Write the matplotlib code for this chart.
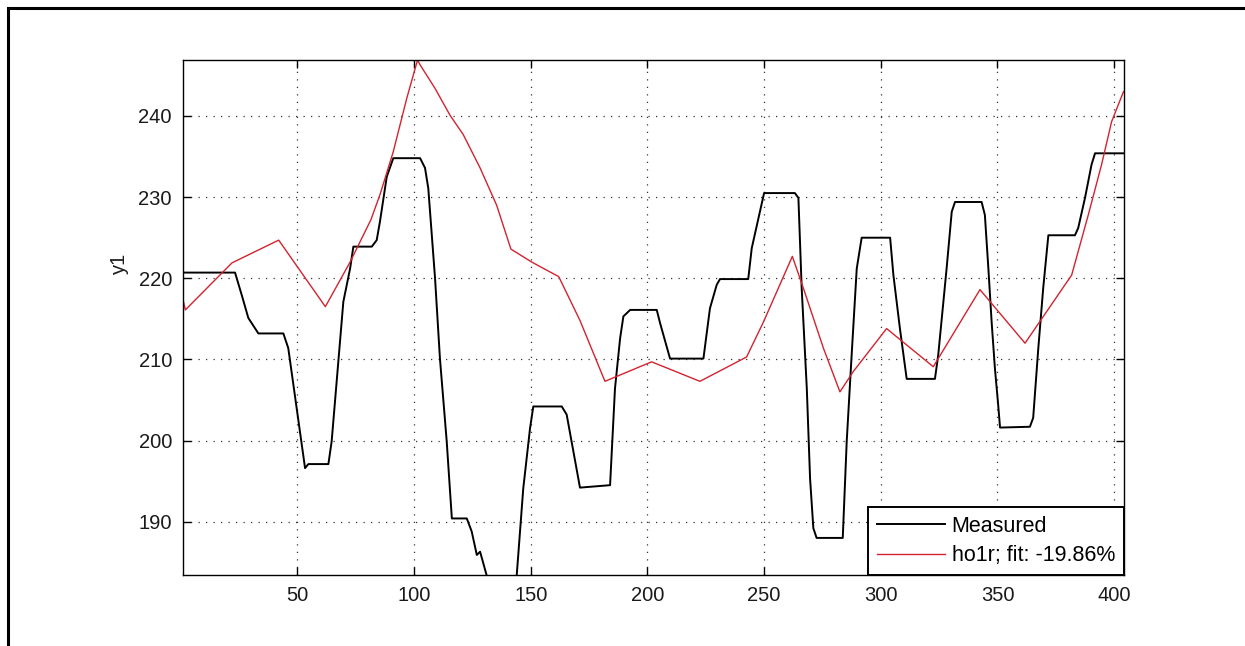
import numpy as np
import matplotlib.pyplot as plt
from matplotlib.patches import Rectangle

plt.rcParams['font.family'] = ['Liberation Sans', 'DejaVu Sans']

# mesure (sortie y1)
t_mes = [1, 23.3, 26.2, 29, 33.3, 44, 46.1, 53.3, 54.7, 63.3, 64.7, 69.7, 72.6, 74,
         81.9, 84, 85.4, 88.3, 91.1, 102.6, 104.7, 106.1, 109, 111.1, 114, 116.2,
         122.6, 124.7, 126.9, 128.3, 131.1, 134, 142.5, 144, 146.8, 149.7, 151.1,
         163.3, 165.4, 171.1, 184, 186.1, 188.3, 189.7, 192.6, 204, 205.4, 209.7,
         224, 226.8, 229.7, 231.1, 243.2, 244.7, 248.2, 250, 263.2, 264.7, 266.1,
         268.3, 269.7, 271.1, 272.5, 283.7, 285.4, 287.5, 289.7, 291.8, 304, 305.4,
         308.2, 311.1, 323.2, 324.6, 328.2, 330.4, 331.8, 343.2, 344.6, 346.1,
         347.5, 348.9, 350.3, 351.1, 363.9, 365.3, 367.5, 369.6, 371.8, 383.2,
         384.6, 387.5, 390.3, 391.8, 404]
y_mes = [220.7, 220.7, 217.9, 215.1, 213.2, 213.2, 211.4, 196.6, 197.1, 197.1, 199.9,
         217.1, 221.2, 223.9, 223.9, 224.7, 227.0, 232.5, 234.8, 234.8, 233.6, 231.1,
         220.0, 210.1, 199.9, 190.4, 190.4, 188.8, 185.9, 186.3, 183.4, 180.5, 180.5,
         183.4, 194.1, 201.5, 204.2, 204.2, 203.2, 194.2, 194.5, 206.4, 212.6, 215.3,
         216.1, 216.1, 214.5, 210.1, 210.1, 216.3, 219.2, 219.9, 219.9, 223.7, 228.2,
         230.5, 230.5, 229.9, 218.8, 206.4, 195.3, 189.2, 188.0, 188.0, 199.9, 210.5,
         221.2, 225.0, 225.0, 220.4, 213.8, 207.6, 207.6, 210.5, 221.2, 228.2, 229.4,
         229.4, 227.8, 221.2, 214.6, 208.9, 204.4, 201.6, 201.7, 202.8, 211.4, 218.8,
         225.3, 225.3, 226.2, 229.9, 234.0, 235.4, 235.4]

# sortie simulee du modele ho1r
t_sim = [1, 2, 22, 42, 62, 72.6, 81.5, 85.4, 91.1, 96.9, 101.5, 102.6, 109, 115.4,
         121.1, 128.3, 135.4, 141.5, 150.4, 162, 171.1, 181.8, 201.8, 222.5, 242.5,
         249.7, 262.1, 266.8, 275.4, 282.5, 288.2, 302.5, 322.5, 342.5, 361.8, 381.8,
         388.9, 394.6, 398.9, 404]
y_sim = [217.4, 216.1, 221.9, 224.7, 216.5, 222.0, 227.2, 230.3, 235.6, 242.2, 246.9,
         246.3, 243.4, 240.1, 237.7, 233.6, 229.0, 223.6, 222.0, 220.2, 214.8, 207.3,
         209.7, 207.3, 210.3, 214.6, 222.7, 218.8, 211.4, 206.0, 208.5, 213.8, 209.1,
         218.6, 212.0, 220.4, 227.8, 234.0, 239.3, 243.0]

fit = -19.86
xticks = [50, 100, 150, 200, 250, 300, 350, 400]
yticks = [190, 200, 210, 220, 230, 240]

fig = plt.figure(figsize=(12.45, 6.46), dpi=100)
ax = fig.add_axes([183/1245, 1 - 575/646, 940.5/1245, 515/646])

ax.plot(t_mes, y_mes, color='black', lw=1.4, label='Measured')
ax.plot(t_sim, y_sim, color='#d3232f', lw=1.0, label=f'ho1r; fit: {fit:.2f}%')

ax.set_xlim(1, 404)
ax.set_ylim(183.43, 246.9)
ax.set_xticks(xticks)
ax.set_yticks(yticks)
ax.grid(True, color='#333333', lw=0.9, linestyle=(0, (1, 5)))
ax.tick_params(direction='in', length=6, width=1, top=True, right=True,
               labelsize=14.5, pad=8, colors='black', labelcolor='#1a1a1a')
for s in ax.spines.values():
    s.set_linewidth(1.0)

ax.set_ylabel('y1', fontsize=14.5, color='#1a1a1a')
ax.yaxis.set_label_coords(-0.057, (575 - 263) / 515)

leg = ax.legend(loc='lower right', bbox_to_anchor=(1, 0), borderaxespad=0,
                fontsize=15.5, handlelength=3.2, handletextpad=0.28,
                borderpad=0.4, labelspacing=0.4, fancybox=False,
                framealpha=1, edgecolor='black')
leg.get_frame().set_linewidth(1.4)

# cadre de la fenetre
fig.patches.append(Rectangle((8/1245, -0.1), 1.2, 1.1 - 8/646, transform=fig.transFigure,
                             fill=False, lw=2.2, edgecolor='black'))

fig.savefig('out.png', dpi=100)
